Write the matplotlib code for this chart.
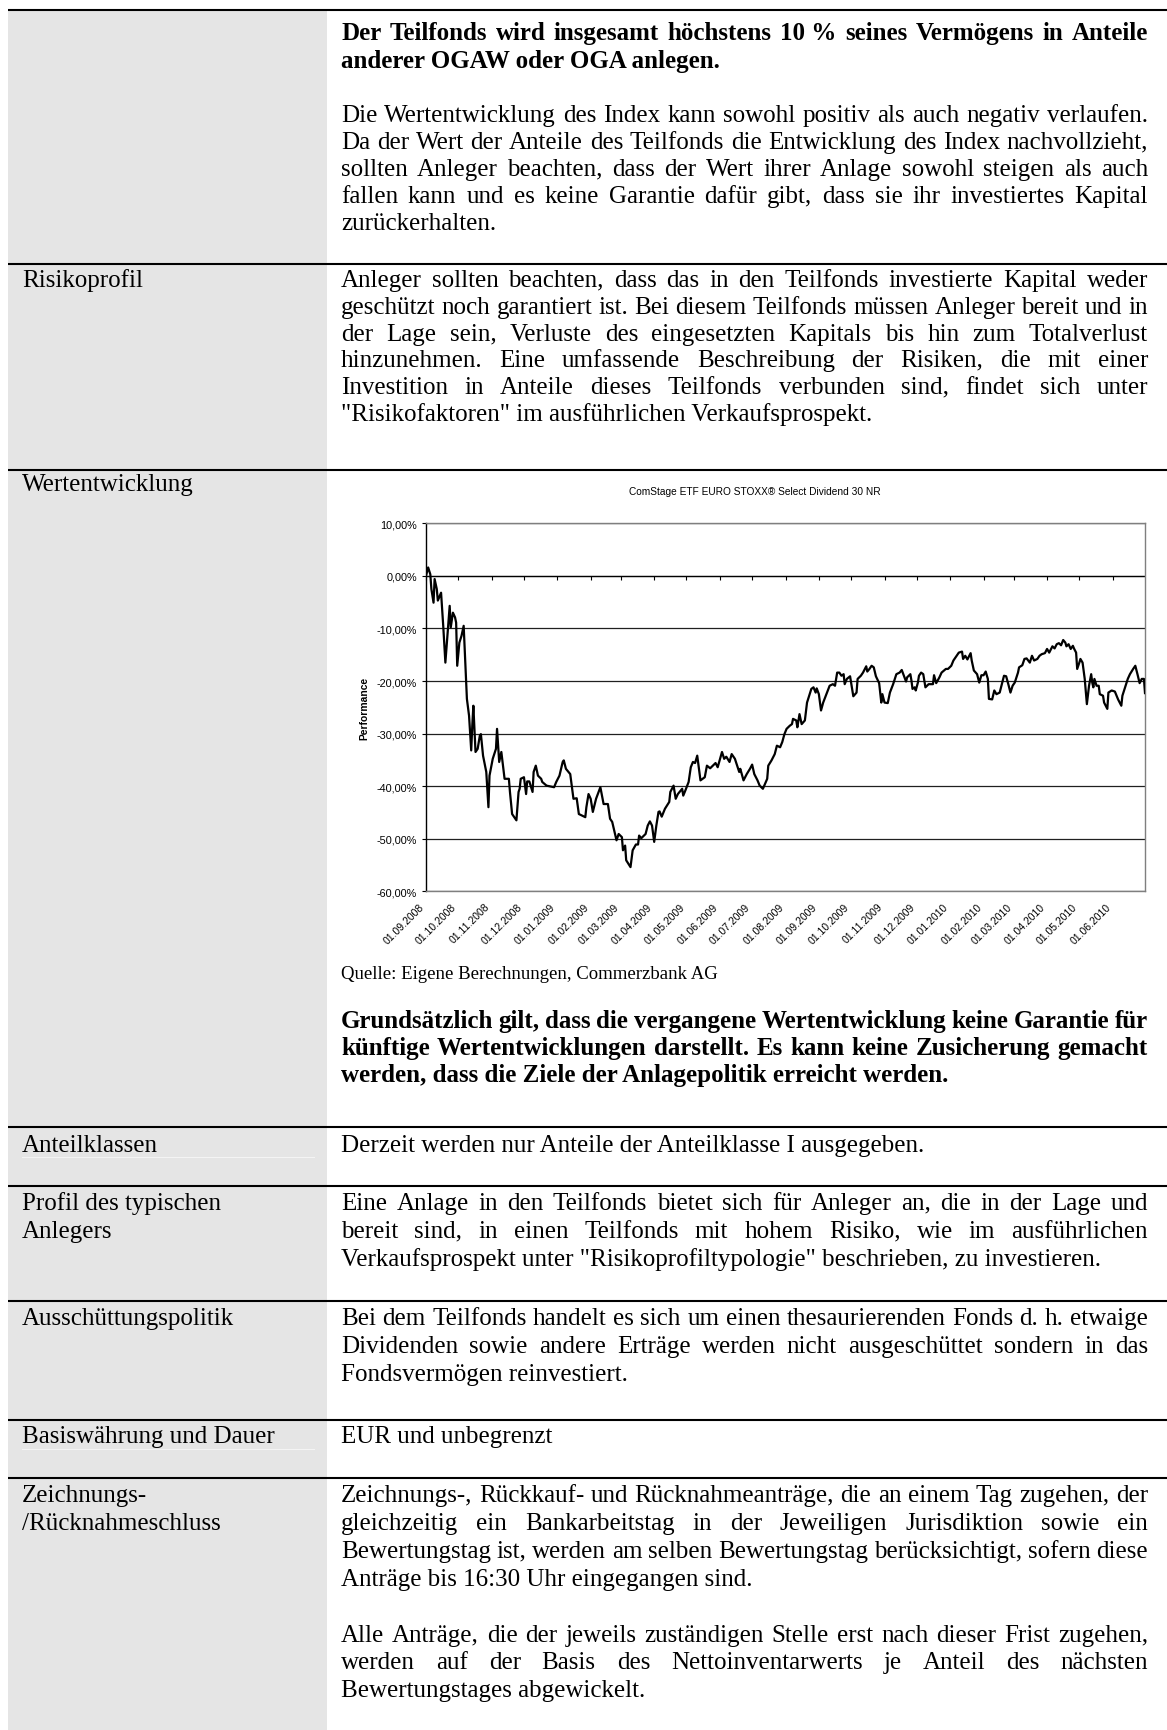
import math
import numpy as np
import matplotlib
matplotlib.use("Agg")
import matplotlib.pyplot as plt
from matplotlib.font_manager import FontProperties
from matplotlib.patches import Rectangle

# ---------------------------------------------------------------- data
chart_title = "ComStage ETF EURO STOXX® Select Dividend 30 NR"
y_axis_title = "Performance"
start_date = "2008-09-01"
end_date = "2010-07-01"

# days after 01.09.2008 and performance in percent
perf_days = [
    0, 2, 4, 5, 7, 8, 10, 11, 14, 16, 18, 22, 23, 25, 27, 28, 29, 31, 33, 35,
    37, 38, 40, 42, 43, 44, 46, 48, 50, 51, 53, 56, 58, 59, 62, 65, 66, 68, 70, 73,
    77, 78, 80, 84, 86, 87, 88, 91, 93, 94, 96, 99, 100, 102, 104, 107, 108, 112, 119, 121,
    124, 127, 128, 130, 134, 137, 140, 142, 148, 149, 151, 153, 155, 158, 162, 165, 169, 171, 173, 177,
    179, 182, 183, 185, 186, 190, 192, 195, 197, 198, 200, 204, 206, 208, 210, 212, 214, 216, 217, 219,
    222, 226, 227, 230, 232, 234, 238, 239, 241, 244, 246, 248, 250, 252, 255, 259, 261, 264, 269, 271,
    275, 277, 279, 282, 284, 287, 291, 292, 295, 298, 301, 303, 305, 308, 310, 313, 317, 318, 321, 324,
    326, 329, 331, 333, 335, 338, 340, 341, 344, 345, 347, 349, 352, 354, 358, 360, 362, 363, 365, 367,
    369, 372, 375, 378, 380, 382, 384, 386, 388, 389, 391, 394, 397, 400, 401, 404, 406, 409, 410, 412,
    414, 416, 418, 421, 423, 424, 426, 429, 431, 434, 437, 440, 442, 444, 446, 447, 450, 451, 452, 454,
    455, 457, 458, 460, 462, 464, 467, 471, 472, 474, 477, 479, 483, 485, 488, 490, 493, 495, 498, 499,
    501, 503, 506, 507, 509, 512, 514, 516, 518, 520, 522, 523, 526, 528, 530, 533, 535, 537, 539, 541,
    543, 545, 547, 550, 551, 554, 556, 558, 561, 563, 565, 568, 570, 572, 575, 577, 579, 582, 584, 586,
    588, 590, 592, 594, 595, 597, 599, 601, 602, 604, 605, 607, 608, 610, 612, 614, 616, 618, 619, 620,
    621, 623, 625, 626, 629, 630, 633, 634, 637, 640, 643, 646, 647, 650, 652, 654, 657, 659, 661, 663,
    665, 667, 668,
]
perf_values = [
    0.0, 1.6, 0.3, -2.5, -5.1, -0.6, -2.5, -4.7, -3.2, -9.5, -16.5, -5.7, -9.8, -7.0, -7.9, -8.9, -17.1, -12.7, -11.4, -9.5,
    -19.0, -23.4, -26.6, -33.2, -28.5, -24.7, -33.5, -32.9, -30.4, -30.1, -34.2, -37.3, -44.0, -38.0, -34.8, -32.9, -29.1, -35.4, -33.5, -38.6,
    -38.6, -41.1, -45.3, -46.5, -41.1, -40.5, -38.6, -38.3, -41.5, -39.1, -39.1, -41.1, -37.3, -36.1, -38.0, -38.6, -39.2, -39.9, -40.2, -39.2,
    -38.0, -35.4, -35.1, -36.7, -37.7, -42.4, -42.3, -45.3, -45.9, -44.0, -41.5, -42.4, -44.9, -42.4, -40.2, -43.4, -43.4, -46.2, -46.8, -50.3,
    -49.1, -49.7, -52.2, -51.3, -54.1, -55.4, -52.2, -51.1, -51.1, -49.4, -49.9, -49.1, -47.5, -46.7, -47.5, -50.6, -47.5, -44.9, -44.8, -45.8,
    -44.3, -43.0, -41.1, -39.9, -42.4, -41.5, -40.5, -41.8, -40.8, -39.2, -36.4, -35.4, -35.6, -34.2, -38.9, -38.3, -36.1, -36.6, -35.6, -36.4,
    -33.5, -34.8, -34.4, -35.4, -33.9, -34.8, -37.3, -36.7, -38.9, -37.7, -36.7, -35.9, -37.7, -38.9, -39.9, -40.5, -38.6, -36.1, -35.1, -33.9,
    -32.3, -32.6, -31.6, -30.1, -29.1, -28.5, -28.2, -27.2, -27.5, -28.8, -26.3, -28.2, -27.5, -24.1, -21.5, -21.2, -22.2, -21.4, -22.5, -25.6,
    -24.1, -22.5, -20.9, -20.6, -20.9, -18.4, -18.4, -19.0, -18.7, -20.6, -19.6, -19.1, -22.9, -22.2, -19.6, -19.0, -18.4, -17.2, -18.2, -17.7,
    -17.1, -17.4, -19.1, -20.4, -24.1, -22.5, -24.1, -24.2, -22.2, -20.6, -18.7, -18.4, -17.9, -19.0, -20.1, -19.3, -18.7, -19.9, -21.5, -21.2,
    -21.8, -20.3, -19.0, -18.4, -18.7, -21.2, -20.6, -20.6, -18.9, -20.4, -19.3, -18.4, -17.7, -17.7, -17.1, -16.1, -15.2, -14.6, -14.4, -15.8,
    -15.2, -15.9, -14.7, -16.1, -18.0, -18.7, -20.3, -18.9, -18.9, -18.2, -19.6, -23.4, -23.5, -21.8, -22.5, -22.2, -20.6, -19.0, -19.1, -20.6,
    -22.2, -20.9, -20.3, -18.4, -17.4, -17.0, -15.8, -15.7, -16.5, -15.2, -16.1, -15.8, -15.2, -14.9, -14.7, -13.9, -14.6, -13.4, -13.8, -13.0,
    -12.8, -13.2, -12.2, -12.7, -13.4, -13.0, -13.9, -13.3, -13.8, -14.6, -17.7, -16.5, -15.8, -16.5, -19.6, -24.4, -20.9, -18.7, -20.3, -21.2,
    -19.6, -20.9, -20.9, -22.5, -22.8, -24.1, -25.3, -22.2, -21.8, -22.0, -23.5, -24.7, -22.8, -20.9, -19.6, -18.7, -17.7, -17.1, -18.7, -20.4,
    -19.6, -19.6, -22.3,
]

x_tick_labels = [
    "01.09.2008", "01.10.2008", "01.11.2008", "01.12.2008", "01.01.2009", "01.02.2009",
    "01.03.2009", "01.04.2009", "01.05.2009", "01.06.2009", "01.07.2009", "01.08.2009",
    "01.09.2009", "01.10.2009", "01.11.2009", "01.12.2009", "01.01.2010", "01.02.2010",
    "01.03.2010", "01.04.2010", "01.05.2010", "01.06.2010",
]
y_ticks = [10, 0, -10, -20, -30, -40, -50, -60]
y_tick_labels = ["10,00%", "0,00%", "-10,00%", "-20,00%", "-30,00%", "-40,00%", "-50,00%", "-60,00%"]

# ---------------------------------------------------------------- document text
row1_bold = [
    "Der Teilfonds wird insgesamt höchstens 10\u00a0% seines Vermögens in Anteile",
    "anderer OGAW oder OGA anlegen.",
]
row1_text = [
    "Die Wertentwicklung des Index kann sowohl positiv als auch negativ verlaufen.",
    "Da der Wert der Anteile des Teilfonds die Entwicklung des Index nachvollzieht,",
    "sollten Anleger beachten, dass der Wert ihrer Anlage sowohl steigen als auch",
    "fallen kann und es keine Garantie dafür gibt, dass sie ihr investiertes Kapital",
    "zurückerhalten.",
]
row2_label = ["Risikoprofil"]
row2_text = [
    "Anleger sollten beachten, dass das in den Teilfonds investierte Kapital weder",
    "geschützt noch garantiert ist. Bei diesem Teilfonds müssen Anleger bereit und in",
    "der Lage sein, Verluste des eingesetzten Kapitals bis hin zum Totalverlust",
    "hinzunehmen. Eine umfassende Beschreibung der Risiken, die mit einer",
    "Investition in Anteile dieses Teilfonds verbunden sind, findet sich unter",
    "\"Risikofaktoren\" im ausführlichen Verkaufsprospekt.",
]
row3_label = ["Wertentwicklung"]
source_text = "Quelle: Eigene Berechnungen, Commerzbank AG"
row3_bold = [
    "Grundsätzlich gilt, dass die vergangene Wertentwicklung keine Garantie für",
    "künftige Wertentwicklungen darstellt. Es kann keine Zusicherung gemacht",
    "werden, dass die Ziele der Anlagepolitik erreicht werden.",
]
row4_label = ["Anteilklassen"]
row4_text = ["Derzeit werden nur Anteile der Anteilklasse I ausgegeben."]
row5_label = ["Profil des typischen", "Anlegers"]
row5_text = [
    "Eine Anlage in den Teilfonds bietet sich für Anleger an, die in der Lage und",
    "bereit sind, in einen Teilfonds mit hohem Risiko, wie im ausführlichen",
    "Verkaufsprospekt unter \"Risikoprofiltypologie\" beschrieben, zu investieren.",
]
row6_label = ["Ausschüttungspolitik"]
row6_text = [
    "Bei dem Teilfonds handelt es sich um einen thesaurierenden Fonds d. h. etwaige",
    "Dividenden sowie andere Erträge werden nicht ausgeschüttet sondern in das",
    "Fondsvermögen reinvestiert.",
]
row7_label = ["Basiswährung und Dauer"]
row7_text = ["EUR und unbegrenzt"]
row8_label = ["Zeichnungs-", "/Rücknahmeschluss"]
row8_text_a = [
    "Zeichnungs-, Rückkauf- und Rücknahmeanträge, die an einem Tag zugehen, der",
    "gleichzeitig ein Bankarbeitstag in der Jeweiligen Jurisdiktion sowie ein",
    "Bewertungstag ist, werden am selben Bewertungstag berücksichtigt, sofern diese",
    "Anträge bis 16:30 Uhr eingegangen sind.",
]
row8_text_b = [
    "Alle Anträge, die der jeweils zuständigen Stelle erst nach dieser Frist zugehen,",
    "werden auf der Basis des Nettoinventarwerts je Anteil des nächsten",
    "Bewertungstages abgewickelt.",
]

# ---------------------------------------------------------------- figure
W_PX, H_PX = 1167, 1731
fig = plt.figure(figsize=(W_PX / 100, H_PX / 100), dpi=100)
fig.patch.set_facecolor("white")
doc = fig.add_axes([0, 0, 1, 1])
doc.set_xlim(0, W_PX)
doc.set_ylim(H_PX, 0)
doc.axis("off")

GRAY = "#e5e5e5"
doc.add_patch(Rectangle((8, 11), 319, H_PX - 11, facecolor=GRAY, edgecolor="none", zorder=0))
separators = [11, 265, 471, 1128, 1187, 1302, 1421, 1479]
for ys in separators:
    doc.plot([8, W_PX], [ys, ys], color="black", lw=1.5, solid_capstyle="butt", zorder=3)
# faint light rules under the one-line labels
for ys in (1157.5, 1449.5):
    doc.plot([22, 314], [ys, ys], color="#f4f4f4", lw=0.8, zorder=1)

renderer = fig.canvas.get_renderer()
FS = 18
serif = FontProperties(family="Liberation Serif", size=FS)
serif_b = FontProperties(family="Liberation Serif", size=FS, weight="bold")
serif_s = FontProperties(family="Liberation Serif", size=13.5)
X0, X1, XL = 341, 1148, 22


def snapped_y(word, fp, yb):
    """Baseline for a single word so that all words of a line sit on one pixel row."""
    _, h, d = renderer.get_text_width_height_descent(word, fp, ismath=False)
    a = h - d
    alpha = a - math.floor(a)
    delta = d - math.floor(d)
    return round(yb) + math.floor(alpha + delta) - delta


def put_line(text, yb, fp, justify):
    if not justify:
        doc.text(X0, yb, text, fontproperties=fp, ha="left", va="baseline")
        return
    words = text.split(" ")
    widths = [renderer.get_text_width_height_descent(w, fp, ismath=False)[0] for w in words]
    gap = (X1 - X0 - sum(widths)) / (len(words) - 1)
    x = X0
    for w, wd in zip(words, widths):
        doc.text(x, snapped_y(w, fp, yb), w, fontproperties=fp, ha="left", va="baseline")
        x += wd + gap


def put_para(lines, y0, step, fp):
    for i, ln in enumerate(lines):
        put_line(ln, y0 + i * step, fp, i < len(lines) - 1)


def put_label(lines, y0, step):
    for i, ln in enumerate(lines):
        doc.text(XL, y0 + i * step, ln, fontproperties=serif, ha="left", va="baseline")


SP = 26.8
SP2 = 27.9
put_para(row1_bold, 40, 27.8, serif_b)
put_para(row1_text, 122.5, SP, serif)
put_label(row2_label, 287, SP)
put_para(row2_text, 287, SP, serif)
put_label(row3_label, 491, SP)
doc.text(X0, 979, source_text, fontproperties=serif_s, ha="left", va="baseline")
put_para(row3_bold, 1028, 27.0, serif_b)
put_label(row4_label, 1152, SP2)
put_para(row4_text, 1152, SP2, serif)
put_label(row5_label, 1210, SP2)
put_para(row5_text, 1210, SP2, serif)
put_label(row6_label, 1325, SP2)
put_para(row6_text, 1325, SP2, serif)
put_label(row7_label, 1443, SP2)
put_para(row7_text, 1443, SP2, serif)
put_label(row8_label, 1502, SP2)
put_para(row8_text_a, 1502, SP2, serif)
put_para(row8_text_b, 1502 + 5 * SP2, SP2, serif)

# ---------------------------------------------------------------- chart
sans = FontProperties(family="Liberation Sans", size=7.8)
sans_x = FontProperties(family="Liberation Sans", size=7.5)
sans_b = FontProperties(family="Liberation Sans", size=7.4, weight="bold")
sans_t = FontProperties(family="Liberation Sans", size=7.3)

PL, PR, PT, PB = 426, 1145, 524.3, 892.3
ax = fig.add_axes([PL / W_PX, 1 - PB / H_PX, (PR - PL) / W_PX, (PB - PT) / H_PX])
ax.set_facecolor("white")

dates = np.datetime64(start_date) + np.array(perf_days).astype("timedelta64[D]")
tick_dates = np.array(
    [np.datetime64(f"{s[6:10]}-{s[3:5]}-{s[0:2]}") for s in x_tick_labels]
)

ax.set_axisbelow(True)
ax.yaxis.grid(True, color="#202020", lw=0.9)
ax.axhline(0, color="black", lw=0.9, zorder=1.5)
ax.plot(tick_dates, np.zeros(len(tick_dates)), ls="none", marker=3, ms=3, mew=0.8,
        color="black", clip_on=False, zorder=1.6)
ax.plot(dates, perf_values, color="black", lw=1.6, zorder=3)

ax.set_xlim(np.datetime64(start_date), np.datetime64(end_date))
ax.set_ylim(-60, 10)
ax.set_yticks(y_ticks)
ax.set_yticklabels(y_tick_labels, fontproperties=sans)
ax.set_xticks(tick_dates)
ax.set_xticklabels(x_tick_labels, fontproperties=sans_x, rotation=45, ha="right", va="top")
ax.xaxis.set_minor_locator(matplotlib.ticker.NullLocator())
ax.tick_params(axis="x", length=0, pad=7)
ax.tick_params(axis="y", direction="out", length=3, width=0.8, pad=3.5)

ax.spines["left"].set_color("black")
ax.spines["left"].set_linewidth(1.0)
for s in ("right", "bottom", "top"):
    ax.spines[s].set_color("#7f7f7f")
    ax.spines[s].set_linewidth(1.0)

ax.set_ylabel(y_axis_title, fontproperties=sans_b)
ax.yaxis.set_label_coords((364.5 - PL) / (PR - PL), 0.5)
ax.yaxis.label.set_verticalalignment("center")

fig.text(754.6 / W_PX, 1 - 492 / H_PX, chart_title, fontproperties=sans_t,
         ha="center", va="center")

fig.savefig("out.png", dpi=100)
